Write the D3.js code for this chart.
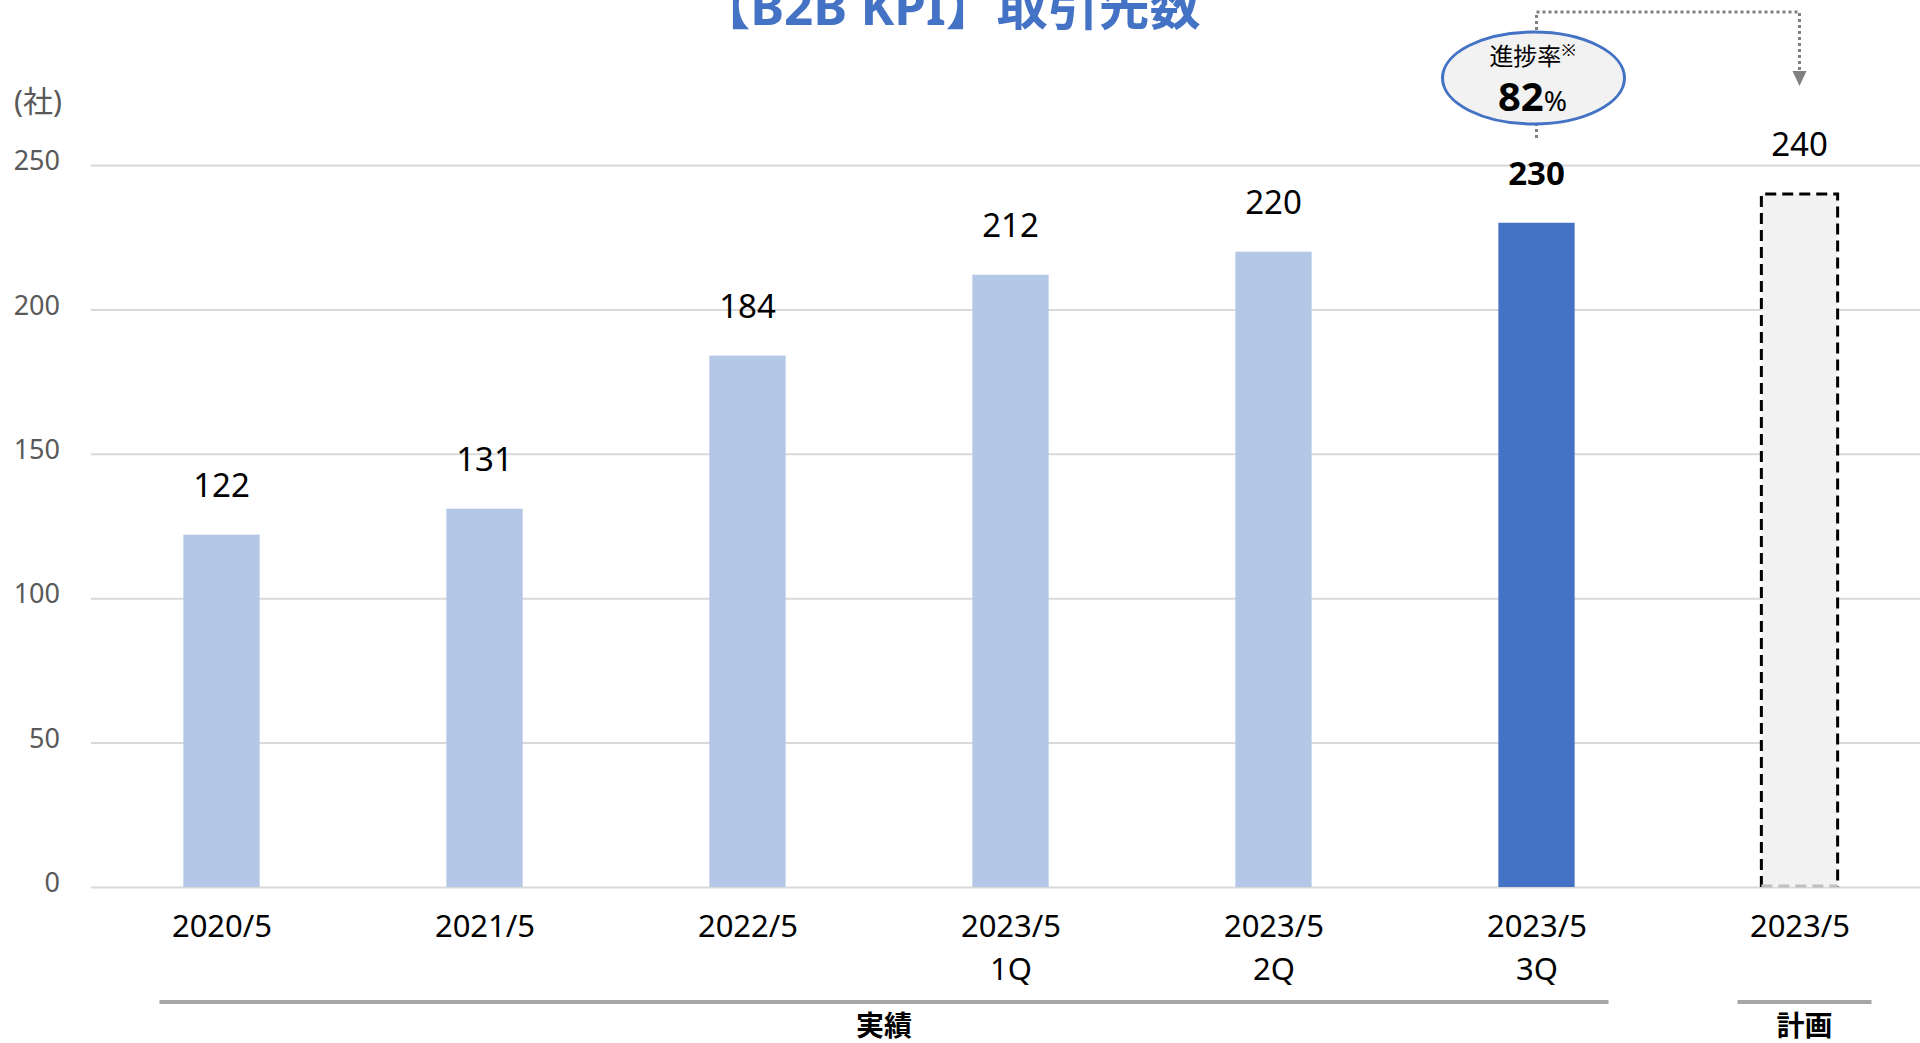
<!DOCTYPE html>
<html>
<head>
<meta charset="utf-8">
<script src="https://cdn.jsdelivr.net/npm/d3@7"></script>
<style>
  body { margin: 0; background: #fff; overflow: hidden; }
  svg { display: block; font-family: "Noto Sans", "Noto Sans CJK JP", sans-serif; }
</style>
</head>
<body>
<svg id="chart"></svg>
<script>
const TITLE = "【B2B KPI】取引先数";
const UNIT = "(社)";
const categories = ["2020/5", "2021/5", "2022/5", "2023/5 1Q", "2023/5 2Q", "2023/5 3Q", "2023/5 計画"];
const tickLines = [["2020/5"], ["2021/5"], ["2022/5"], ["2023/5", "1Q"], ["2023/5", "2Q"], ["2023/5", "3Q"], ["2023/5"]];
const values = [122, 131, 184, 212, 220, 230, 240];
const barKind = ["past", "past", "past", "past", "past", "latest", "plan"];
const yTicks = [0, 50, 100, 150, 200, 250];
const groups = [
  { label: "実績", from: 0, to: 5 },
  { label: "計画", from: 6, to: 6 },
];
const progressLabel = "進捗率";
const progressRate = 82;

const WIDTH = 1920;
const HEIGHT = 1043;
const PLOT_LEFT = 91;
const BASE_Y = 887;
const TOP_Y = 165;

const svg = d3.select("#chart").attr("width", WIDTH).attr("height", HEIGHT);

const x = d3.scalePoint().domain(categories).range([90, 1931]).padding(0.5);
const y = d3.scaleLinear().domain([0, 250]).range([BASE_Y, TOP_Y]);
const barW = x.step() * 0.29;

const colors = { past: "#B4C7E7", latest: "#4472C4", plan: "#F2F2F2" };

// title (cut off at the top like the slide)
svg.append("text")
  .attr("x", 950).attr("y", 25)
  .attr("text-anchor", "middle")
  .style("font-size", "51px").style("font-weight", "bold")
  .style("fill", "#4472C4")
  .text(TITLE);

// unit
svg.append("text")
  .attr("x", 14).attr("y", 112)
  .style("font-size", "30px").style("fill", "#595959")
  .text(UNIT);

// y grid + labels
const gy = svg.append("g")
  .attr("transform", `translate(${PLOT_LEFT},0)`)
  .call(d3.axisLeft(y).tickValues(yTicks).tickSize(-(WIDTH - PLOT_LEFT)).tickPadding(31));
gy.select(".domain").remove();
gy.selectAll("line").attr("stroke", "#D9D9D9").attr("stroke-width", 2);
gy.selectAll("text")
  .attr("dy", "0.32em").attr("y", -4)
  .style("font-size", "27px").style("fill", "#595959")
  .style("font-family", "'Noto Sans', sans-serif");

// bars
const data = categories.map((c, i) => ({ c, v: values[i], kind: barKind[i] }));

svg.append("g").selectAll("rect")
  .data(data.filter((d) => d.kind !== "plan"))
  .join("rect")
  .attr("x", (d) => x(d.c) - barW / 2)
  .attr("y", (d) => y(d.v))
  .attr("width", barW)
  .attr("height", (d) => y(0) - y(d.v))
  .attr("fill", (d) => colors[d.kind]);

const plan = data.filter((d) => d.kind === "plan");
const planG = svg.append("g");
planG.selectAll("rect")
  .data(plan)
  .join("rect")
  .attr("x", (d) => x(d.c) - barW / 2)
  .attr("y", (d) => y(d.v))
  .attr("width", barW)
  .attr("height", (d) => y(0) - y(d.v))
  .attr("fill", colors.plan);
planG.selectAll("path.side")
  .data(plan)
  .join("path")
  .attr("class", "side")
  .attr("d", (d) => {
    const l = x(d.c) - barW / 2, r = x(d.c) + barW / 2;
    return `M${l},${y(0)}V${y(d.v)}H${r}V${y(0)}`;
  })
  .attr("fill", "none").attr("stroke", "#000")
  .attr("stroke-width", 3).attr("stroke-dasharray", "11,6");
planG.selectAll("path.bottom")
  .data(plan)
  .join("path")
  .attr("class", "bottom")
  .attr("d", (d) => `M${x(d.c) - barW / 2},${y(0) - 1}H${x(d.c) + barW / 2}`)
  .attr("stroke", "#BFBFBF").attr("stroke-width", 3).attr("stroke-dasharray", "11,6");

// value labels
svg.append("g").selectAll("text")
  .data(data)
  .join("text")
  .attr("x", (d) => x(d.c))
  .attr("y", (d) => y(d.v) - 38)
  .attr("text-anchor", "middle")
  .style("font-size", "33px")
  .style("font-weight", (d) => (d.kind === "latest" ? "bold" : "normal"))
  .style("fill", "#000")
  .text((d) => d.v);

// x labels
const gx = svg.append("g")
  .attr("transform", `translate(0,${BASE_Y})`)
  .call(d3.axisBottom(x).tickSize(0).tickFormat(() => ""));
gx.select(".domain").remove();
gx.selectAll(".tick text").remove();
gx.selectAll(".tick")
  .append("text")
  .attr("text-anchor", "middle")
  .style("font-size", "31px").style("fill", "#000")
  .style("font-family", "'Noto Sans', sans-serif")
  .selectAll("tspan")
  .data((c) => tickLines[categories.indexOf(c)])
  .join("tspan")
  .attr("x", 0)
  .attr("y", (d, i) => 50 + i * 43)
  .text((d) => d);

// group brackets
const gGroups = svg.append("g");
groups.forEach((g) => {
  const x0 = x(categories[g.from]) - 62;
  const x1 = x(categories[g.to]) + 72;
  gGroups.append("line")
    .attr("x1", x0).attr("x2", x1).attr("y1", 1002).attr("y2", 1002)
    .attr("stroke", "#A6A6A6").attr("stroke-width", 4);
  gGroups.append("text")
    .attr("x", (x0 + x1) / 2).attr("y", 1036)
    .attr("text-anchor", "middle")
    .style("font-size", "28px").style("font-weight", "bold").style("fill", "#000")
    .text(g.label);
});

// progress connector
const xa = x(categories[5]);
const xb = x(categories[6]);
svg.append("path")
  .attr("d", `M${xa},138V12H${xb}V72`)
  .attr("fill", "none").attr("stroke", "#808080")
  .attr("stroke-width", 3).attr("stroke-dasharray", "3,3");
svg.append("path")
  .attr("d", `M${xb - 7},71L${xb + 7},71L${xb},86Z`)
  .attr("fill", "#808080");

svg.append("ellipse")
  .attr("cx", xa - 3).attr("cy", 78).attr("rx", 91).attr("ry", 46)
  .attr("fill", "#F2F2F2").attr("stroke", "#4472C4").attr("stroke-width", 3);

const t1 = svg.append("text")
  .attr("x", xa - 4).attr("y", 65)
  .attr("text-anchor", "middle")
  .style("font-size", "24px").style("fill", "#000");
t1.append("tspan").text(progressLabel);
t1.append("tspan").attr("dy", -9).style("font-size", "17px").text("※");

const t2 = svg.append("text")
  .attr("x", xa - 4).attr("y", 111)
  .attr("text-anchor", "middle")
  .style("fill", "#000");
t2.append("tspan").style("font-size", "40px").style("font-weight", "bold").text(progressRate);
t2.append("tspan").style("font-size", "28px").text("%");
</script>
</body>
</html>
